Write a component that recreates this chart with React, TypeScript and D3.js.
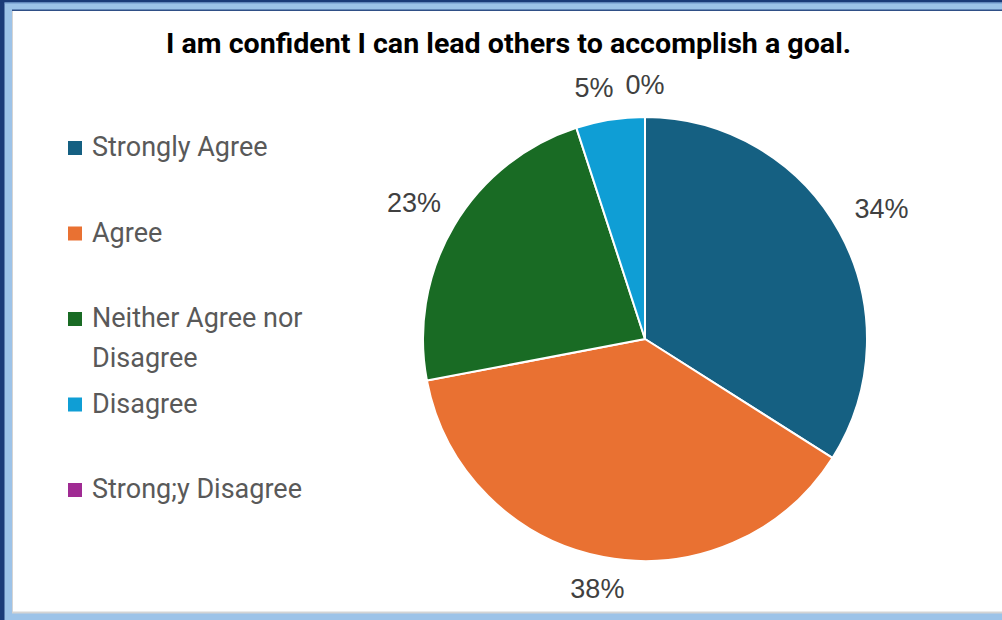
import React from "react";
import * as d3 from "d3";

const title = "I am confident I can lead others to accomplish a goal.";
const categories = ["Strongly Agree", "Agree", "Neither Agree nor Disagree", "Disagree", "Strong;y Disagree"];
const values = [34, 38, 23, 5, 0];
const colors = ["#156082", "#E97132", "#196B24", "#0F9ED5", "#A02B93"];

const W = 1002;
const H = 620;
const cx = 645;
const cy = 339;
const R = 222;
const labelFont = 27;
const legendFont = 27;

function wrap(text: string, maxChars: number): string[] {
  const words = text.split(" ");
  const lines: string[] = [];
  let cur = "";
  for (const w of words) {
    const next = cur ? cur + " " + w : w;
    if (next.length > maxChars && cur) {
      lines.push(cur);
      cur = w;
    } else cur = next;
  }
  if (cur) lines.push(cur);
  return lines;
}

export default function App() {
  const total = d3.sum(values);
  const pie = d3.pie<number>().sort(null).value((d) => d).startAngle(0).endAngle(2 * Math.PI);
  const arcs = pie(values);
  const arc = d3.arc<d3.PieArcDatum<number>>().innerRadius(0).outerRadius(R);
  const legendY = d3.scalePoint<string>().domain(categories).range([148, 490]);
  const fmt = d3.format(".0%");

  // label layout: outside end, then resolve horizontal overlaps near the top
  const labels = arcs.map((a, i) => {
    const mid = (a.startAngle + a.endAngle) / 2;
    const dx = Math.sin(mid);
    const dy = -Math.cos(mid);
    const text = fmt(values[i] / total);
    const halfW = (text.length - 1) * 0.556 * labelFont * 0.5 + 0.889 * labelFont * 0.5;
    const halfH = 15;
    const ext = Math.min(
      Math.abs(dx) > 1e-6 ? halfW / Math.abs(dx) : Infinity,
      Math.abs(dy) > 1e-6 ? halfH / Math.abs(dy) : Infinity
    );
    const dist = R + 17 + ext;
    return { text, x: dx * dist, y: dy * dist, halfW };
  });
  const minGap = 12;
  for (let i = labels.length - 1; i > 0; i--) {
    const a = labels[i - 1];
    const b = labels[i];
    if (Math.abs(a.y - b.y) < 30 && a.x < b.x) {
      const need = b.x - b.halfW - minGap - a.halfW;
      if (a.x > need) a.x = need;
    }
  }

  return (
    <svg
      width={W}
      height={H}
      style={{ position: "absolute", left: 0, top: 0, display: "block" }}
      fontFamily="Roboto, 'Noto Sans', sans-serif"
    >
      {/* frame */}
      <rect x={0} y={0} width={W} height={H} fill="#9dc3e8" />
      <rect x={0} y={0} width={4.5} height={H} fill="#1b3b78" />
      <rect x={0} y={0} width={W} height={2.5} fill="#1b3b78" />
      <rect x={4.5} y={2.5} width={W} height={1} fill="#6f95c9" />
      <rect x={12} y={9.5} width={W} height={1.5} fill="#2f4f86" />
      <rect x={12} y={11} width={W} height={602.5} fill="#d4d4d4" />
      <rect x={13} y={11} width={W} height={600.5} fill="#ffffff" />

      {/* title */}
      <text
        x={508.5}
        y={53}
        textAnchor="middle"
        fontSize={28}
        fontWeight="bold"
        fill="#000000"
        textLength={685}
        lengthAdjust="spacingAndGlyphs"
      >
        {title}
      </text>

      {/* pie */}
      <g transform={`translate(${cx},${cy})`}>
        {arcs.map((a, i) => (
          <path key={i} d={arc(a) || ""} fill={colors[i]} stroke="#ffffff" strokeWidth={2} strokeLinejoin="round" />
        ))}
        {labels.map((l, i) => (
          <text
            key={"l" + i}
            x={l.x}
            y={l.y}
            dy="0.35em"
            textAnchor="middle"
            fontSize={labelFont}
            fontFamily="'Liberation Sans', Arial, sans-serif"
            fill="#404040"
          >
            {l.text}
          </text>
        ))}
      </g>

      {/* legend */}
      {categories.map((c, i) => {
        const yc = legendY(c) as number;
        const lines = wrap(c, 17);
        return (
          <g key={"g" + i}>
            <rect x={68} y={yc - 7} width={14} height={14} fill={colors[i]} />
            {lines.map((ln, j) => (
              <text key={j} x={92} y={yc + 8 + j * 40} fontSize={legendFont} fill="#595959">
                {ln}
              </text>
            ))}
          </g>
        );
      })}
    </svg>
  );
}
